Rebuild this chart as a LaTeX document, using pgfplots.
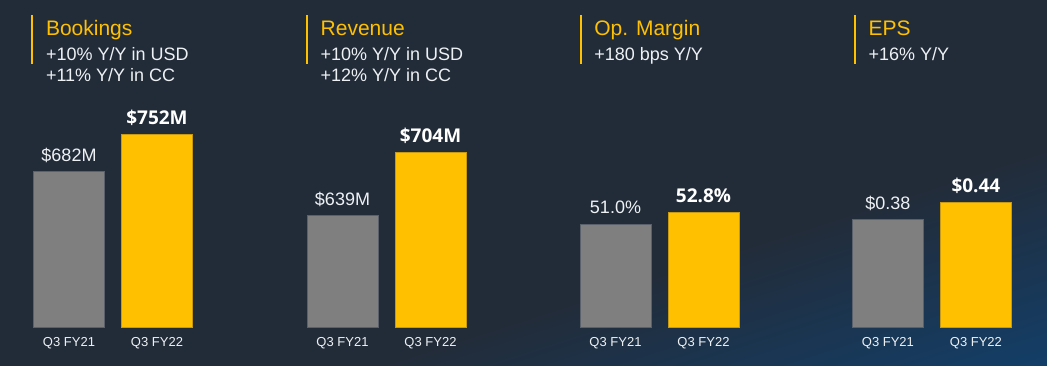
\documentclass[border=0pt]{standalone}
\usepackage{pgfplots}
\pgfplotsset{compat=1.18}
\usepackage{fontspec}
\setmainfont{Liberation Sans}
\newfontfamily\boldfont{Open Sans}
\definecolor{bgdark}{HTML}{222C39}
\definecolor{bgblue}{HTML}{11416F}
\definecolor{barg}{HTML}{7F7F7F}
\definecolor{bargb}{HTML}{5A616B}
\definecolor{bary}{HTML}{FFC000}
\definecolor{baryb}{HTML}{C99A10}
\definecolor{txt}{HTML}{EEF1F4}
\definecolor{ttl}{HTML}{FFC000}

\pgfplotsset{panel/.style={
  scale only axis, width=176pt, height=227pt,
  xmin=-0.5, xmax=1.5, ybar, bar width=71pt, bar shift=0pt,
  xtick={0,1}, xticklabels={Q3 FY21, Q3 FY22},
  ytick=\empty, axis line style={draw=none}, major tick length=0pt,
  xticklabel style={font=\fontsize{13}{13}\selectfont, text=txt, anchor=base, yshift=-19pt},
  anchor=south west,
  point meta=explicit symbolic,
},
gbar/.style={fill=barg, draw=bargb, line width=0.8pt, nodes near coords,
  every node near coord/.append style={font=\fontsize{18}{18}\selectfont, text=txt, anchor=base, yshift=10pt}},
ybarstyle/.style={fill=bary, draw=baryb, line width=0.8pt, nodes near coords,
  every node near coord/.append style={font=\boldfont\bfseries\fontsize{19}{19}\selectfont, text=white, anchor=base, yshift=10pt}},
}

\newcommand\paneltitle[4]{%
  \draw[ttl, line width=2pt] (#1pt,301pt) -- (#1pt,350pt);
  \node[anchor=base west, inner sep=0pt, text=ttl, font=\fontsize{21}{21}\selectfont] at ([xshift=13.5pt]#1pt,329pt) {#2};
  \node[anchor=base west, inner sep=0pt, text=txt, font=\fontsize{18}{18}\selectfont] at ([xshift=13.5pt]#1pt,305pt) {#3};
  \node[anchor=base west, inner sep=0pt, text=txt, font=\fontsize{18}{18}\selectfont] at ([xshift=13.5pt]#1pt,283.3pt) {#4};
}

\begin{document}
\begin{tikzpicture}
\path[use as bounding box] (0pt,0pt) rectangle (1047pt,365pt);
\fill[bgdark] (-3pt,-3pt) rectangle (1050pt,368pt);
\begin{scope}
\clip (-3pt,-3pt) rectangle (1050pt,368pt);
\begin{scope}[transform canvas={shift={(1047pt,0pt)}, rotate=17.9}]
\shade[top color=bgdark, bottom color=bgblue] (-1500pt,-30pt) rectangle (1500pt,205pt);
\end{scope}
\end{scope}

\paneltitle{32.3}{Bookings}{+10\% Y/Y in USD}{+11\% Y/Y in CC}
\paneltitle{307}{Revenue}{+10\% Y/Y in USD}{+12\% Y/Y in CC}
\paneltitle{580.7}{Op. Margin}{+180 bps Y/Y}{}
\paneltitle{855}{EPS}{+16\% Y/Y}{}

\begin{axis}[panel, at={(25pt,38pt)}, ymin=381.2, ymax=818.9]
\addplot[gbar] coordinates {(0,682) [\$682M]};
\addplot[ybarstyle] coordinates {(1,752) [\$752M]};
\end{axis}

\begin{axis}[panel, at={(298.5pt,38pt)}, ymin=524.9, ymax=757.6]
\addplot[gbar] coordinates {(0,639) [\$639M]};
\addplot[ybarstyle] coordinates {(1,704) [\$704M]};
\end{axis}

\begin{axis}[panel, at={(571.5pt,38pt)}, ymin=35.15, ymax=70.07]
\addplot[gbar] coordinates {(0,51.0) [51.0\%]};
\addplot[ybarstyle] coordinates {(1,52.8) [52.8\%]};
\end{axis}

\begin{axis}[panel, at={(843.9pt,38pt)}, ymin=0, ymax=0.801]
\addplot[gbar] coordinates {(0,0.38) [\$0.38]};
\addplot[ybarstyle] coordinates {(1,0.44) [\$0.44]};
\end{axis}
\end{tikzpicture}
\end{document}
